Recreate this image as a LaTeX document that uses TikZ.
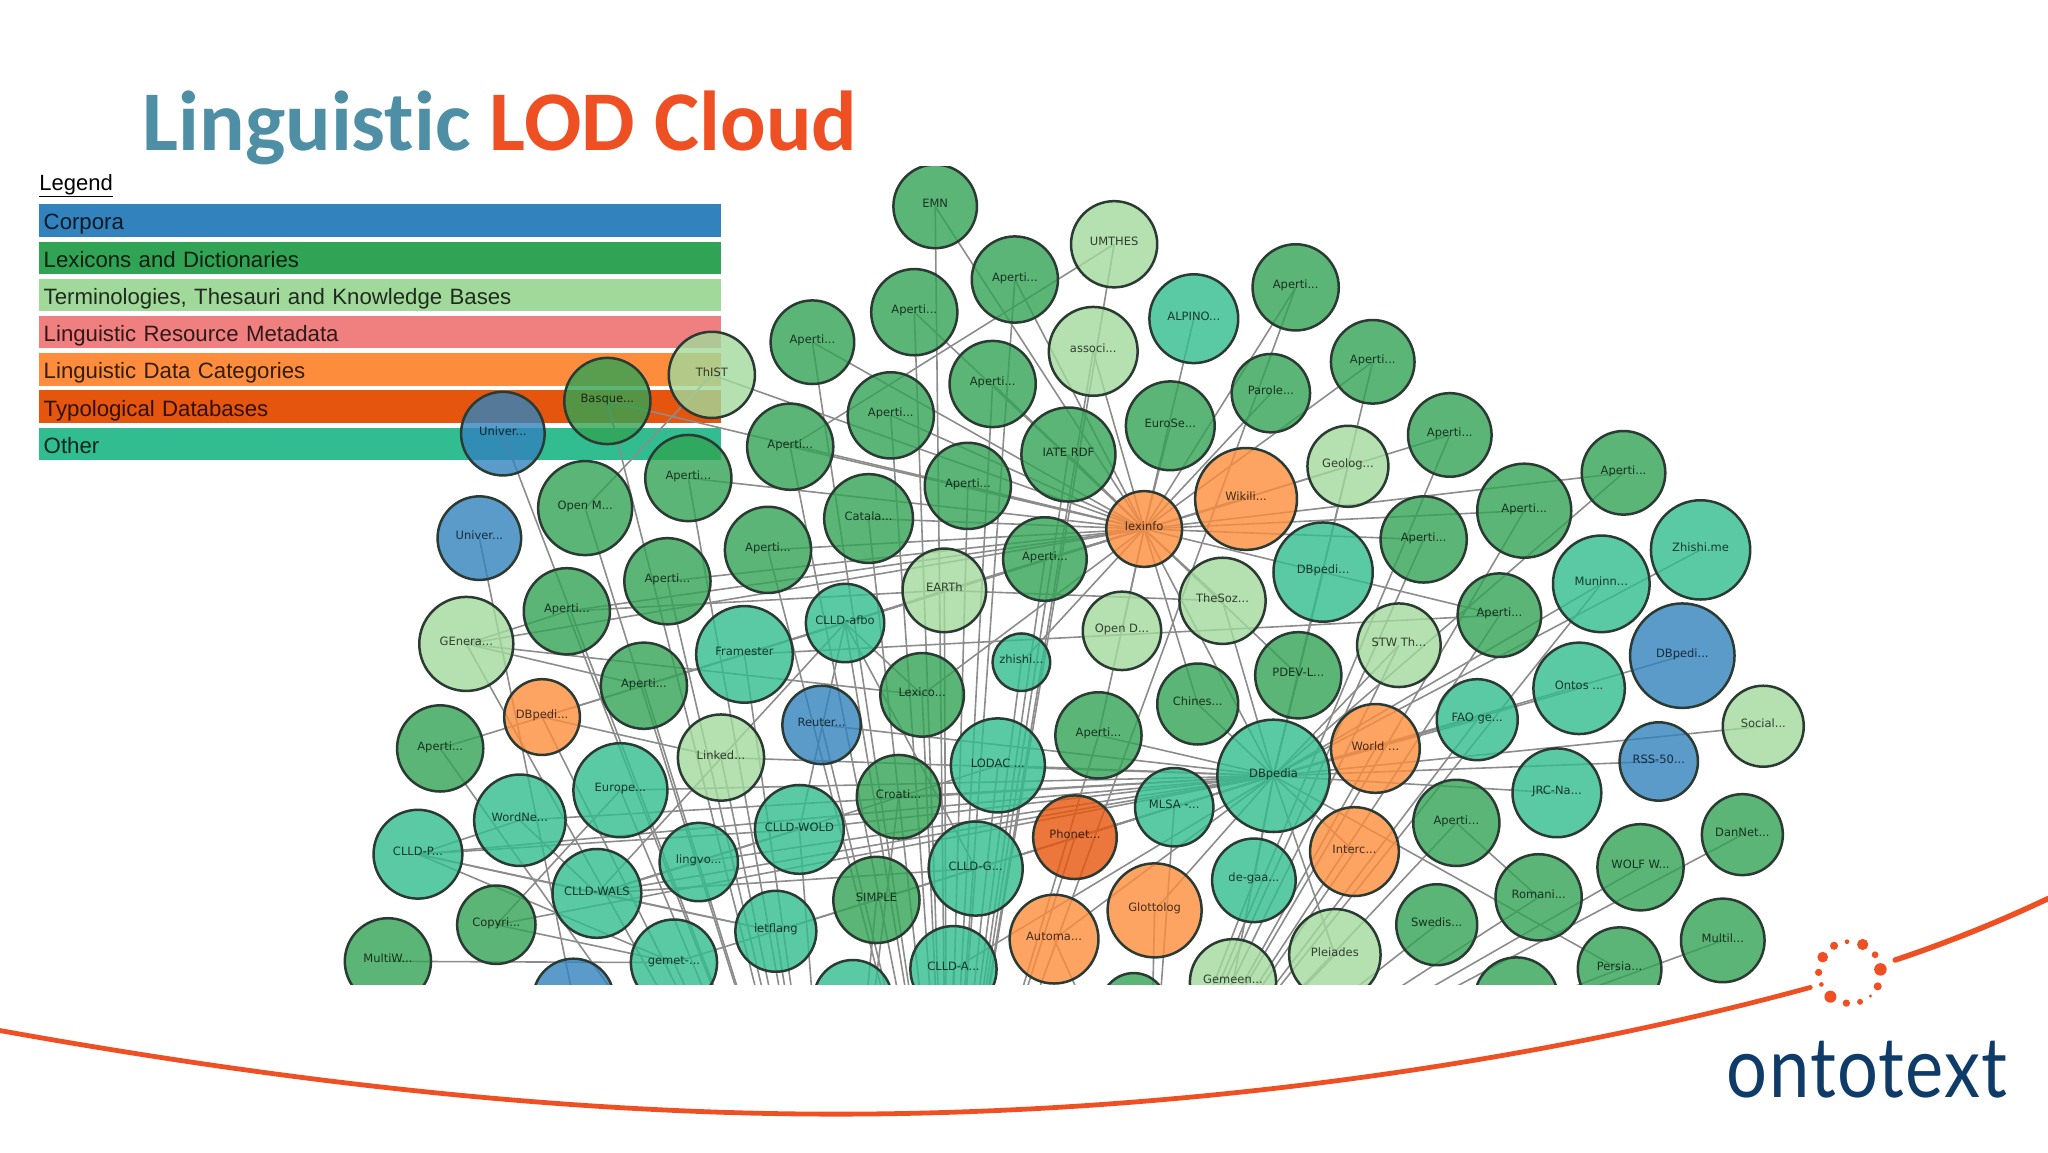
\documentclass[tikz,border=0pt]{standalone}
\usepackage{fontspec}
\usepackage{xcolor}
\usepackage{tikz}
\setmainfont{Liberation Sans}
\newfontfamily\graphfont{DejaVu Sans}
\newfontfamily\titlefont[Ligatures=NoCommon]{Carlito}
\newfontfamily\logofont[FakeStretch=0.86,LetterSpace=1.5]{Lato}
\definecolor{corpcol}{HTML}{3182BD}
\definecolor{lexcol}{HTML}{31A354}
\definecolor{termcol}{HTML}{A1D99B}
\definecolor{metacol}{HTML}{F08080}
\definecolor{catcol}{HTML}{FD8D3C}
\definecolor{typocol}{HTML}{E6550D}
\definecolor{othercol}{HTML}{31BD8F}
\definecolor{ringcol}{HTML}{2B3A33}
\definecolor{linkcol}{HTML}{8C8C8C}
\definecolor{tealcol}{HTML}{4F8FA6}
\definecolor{redcol}{HTML}{EF5023}
\definecolor{logocol}{HTML}{0F3B68}
\pgfdeclarelayer{legendlayer}
\pgfdeclarelayer{linklayer}
\pgfsetlayers{legendlayer,linklayer,main}
\tikzset{
  gnode/.style={circle,draw=ringcol,line width=2.5pt,inner sep=0pt,fill opacity=.8,text=black,text opacity=.72,text height=8.7pt,text depth=5.5pt,font=\graphfont\fontsize{11.5}{12}\selectfont},
  rad/.style={minimum size=#1*2.6122pt},
  corp/.style={gnode,fill=corpcol},
  lex/.style={gnode,fill=lexcol},
  term/.style={gnode,fill=termcol},
  cat/.style={gnode,fill=catcol},
  typo/.style={gnode,fill=typocol},
  other/.style={gnode,fill=othercol},
  link/.style={draw=linkcol,line width=1.6pt},
  bar/.style={anchor=west,inner xsep=5pt,inner ysep=0pt,text width=671.8pt,minimum height=32.3pt,text height=18.8pt,text depth=0pt,text=black,text opacity=.8,font=\fontsize{22.2}{24}\selectfont},
  swoosh/.style={draw=redcol,line cap=round},
  spark/.style={fill=redcol}
}
\begin{document}
\begin{tikzpicture}[x=1.30612pt,y=-1.30612pt,line join=round]
\useasboundingbox (0,0) rectangle (1568,882);
\node [anchor=base west,inner sep=0pt,font=\titlefont\bfseries\fontsize{85}{90}\selectfont] (title) at (109,115) {\textcolor{tealcol}{Linguistic} \textcolor{redcol}{LOD Cloud}};
\node [anchor=base west,inner sep=0pt,font=\fontsize{22}{24}\selectfont] (legend) at (30,146) {\underline{Legend}};
\begin{pgfonlayer}{legendlayer}
\node [bar,fill=corpcol] (rowcorp) at (29.5,168.8) {Corpora};
\node [bar,fill=lexcol] (rowlex) at (29.5,197.3) {Lexicons and Dictionaries};
\node [bar,fill=termcol] (rowterm) at (29.5,225.8) {Terminologies, Thesauri and Knowledge Bases};
\node [bar,fill=metacol] (rowmeta) at (29.5,254.3) {Linguistic Resource Metadata};
\node [bar,fill=catcol] (rowcat) at (29.5,282.8) {Linguistic Data Categories};
\node [bar,fill=typocol] (rowtypo) at (29.5,311.3) {Typological Databases};
\node [bar,fill=othercol] (rowother) at (29.5,339.8) {Other};
\end{pgfonlayer}
\begin{scope}
\clip (0,127.7) rectangle (1568,753.7);
\node [lex,rad=32] (emn) at (716,158) {EMN};
\node [term,rad=33] (umthes) at (853,187) {UMTHES};
\node [lex,rad=33] (ap1) at (777,214) {Aperti...};
\node [lex,rad=33] (ap2) at (700,239) {Aperti...};
\node [other,rad=34] (alpino) at (914,244) {ALPINO...};
\node [lex,rad=33] (ap3) at (992,220) {Aperti...};
\node [term,rad=34] (assoc) at (837,269) {associ...};
\node [lex,rad=32] (ap4) at (622,262) {Aperti...};
\node [lex,rad=33] (ap5) at (760,294) {Aperti...};
\node [lex,rad=30] (parole) at (973,301) {Parole...};
\node [lex,rad=32] (ap6) at (1051,277) {Aperti...};
\node [lex,rad=34] (eurose) at (896,326) {EuroSe...};
\node [term,rad=33] (thist) at (545,287) {ThIST};
\node [lex,rad=33] (basque) at (465,307) {Basque...};
\node [lex,rad=33] (ap7) at (682,318) {Aperti...};
\node [lex,rad=33] (ap8) at (605,342) {Aperti...};
\node [corp,rad=32] (univa) at (385,332) {Univer...};
\node [lex,rad=36] (iate) at (818,348) {IATE RDF};
\node [term,rad=31] (geolog) at (1032,357) {Geolog...};
\node [lex,rad=32] (ap9) at (1110,333) {Aperti...};
\node [lex,rad=33] (ap10) at (527,366) {Aperti...};
\node [lex,rad=33] (ap11) at (741,372) {Aperti...};
\node [cat,rad=39] (wikili) at (954,382) {Wikili...};
\node [cat,rad=29] (lexinfo) at (876,405) {lexinfo};
\node [lex,rad=36] (openm) at (448,389) {Open M...};
\node [corp,rad=32] (univb) at (367,412) {Univer...};
\node [lex,rad=34] (catala) at (665,397) {Catala...};
\node [lex,rad=32] (ap12) at (800,428) {Aperti...};
\node [lex,rad=33] (ap13) at (588,421) {Aperti...};
\node [lex,rad=33] (ap14) at (1090,413) {Aperti...};
\node [lex,rad=36] (ap15) at (1167,391) {Aperti...};
\node [lex,rad=32] (ap16) at (1243,362) {Aperti...};
\node [other,rad=38] (dbpgreen) at (1013,438) {DBpedi...};
\node [other,rad=37] (muninn) at (1226,447) {Muninn...};
\node [other,rad=38] (zhishime) at (1302,421) {Zhishi.me};
\node [lex,rad=33] (ap17) at (511,445) {Aperti...};
\node [term,rad=32] (earth) at (723,452) {EARTh};
\node [term,rad=33] (thesoz) at (936,460) {TheSoz...};
\node [lex,rad=33] (ap18) at (434,468) {Aperti...};
\node [other,rad=30] (afbo) at (647,477) {CLLD-afbo};
\node [lex,rad=32] (ap19) at (1148,471) {Aperti...};
\node [term,rad=30] (opend) at (859,483) {Open D...};
\node [term,rad=32] (stw) at (1071,494) {STW Th...};
\node [term,rad=36] (genera) at (357,493) {GEnera...};
\node [other,rad=37] (framester) at (570,501) {Framester};
\node [other,rad=22] (zhishi) at (782,507) {zhishi...};
\node [corp,rad=40] (dbpblue) at (1288,502) {DBpedi...};
\node [lex,rad=33] (pdev) at (994,517) {PDEV-L...};
\node [lex,rad=33] (ap20) at (493,525) {Aperti...};
\node [lex,rad=32] (lexico) at (706,532) {Lexico...};
\node [other,rad=35] (ontos) at (1209,527) {Ontos ...};
\node [lex,rad=31] (chines) at (917,539) {Chines...};
\node [other,rad=31] (fao) at (1131,551) {FAO ge...};
\node [cat,rad=29] (dbporange) at (415,549) {DBpedi...};
\node [term,rad=31] (social) at (1350,556) {Social...};
\node [corp,rad=30] (reuter) at (629,555) {Reuter...};
\node [lex,rad=33] (ap21) at (841,563) {Aperti...};
\node [term,rad=33] (linked) at (552,580) {Linked...};
\node [other,rad=36] (lodac) at (764,586) {LODAC ...};
\node [cat,rad=34] (world) at (1053,573) {World ...};
\node [corp,rad=30] (rss) at (1270,583) {RSS-50...};
\node [other,rad=43] (dbpedia) at (975,594) {DBpedia};
\node [lex,rad=33] (ap22) at (337,573) {Aperti...};
\node [other,rad=36] (europe) at (475,605) {Europe...};
\node [other,rad=34] (jrc) at (1192,607) {JRC-Na...};
\node [lex,rad=32] (croati) at (688,610) {Croati...};
\node [other,rad=30] (mlsa) at (899,618) {MLSA -...};
\node [lex,rad=31] (dannet) at (1334,639) {DanNet...};
\node [lex,rad=33] (ap23) at (1115,630) {Aperti...};
\node [other,rad=34] (wold) at (612,635) {CLLD-WOLD};
\node [other,rad=35] (wordne) at (398,628) {WordNe...};
\node [typo,rad=32] (phonet) at (823,641) {Phonet...};
\node [cat,rad=34] (interc) at (1037,652) {Interc...};
\node [other,rad=34] (cllp) at (320,654) {CLLD-P...};
\node [other,rad=30] (lingvo) at (535,660) {lingvo...};
\node [lex,rad=33] (wolf) at (1256,664) {WOLF W...};
\node [other,rad=36] (cllg) at (747,665) {CLLD-G...};
\node [other,rad=32] (degaa) at (960,674) {de-gaa...};
\node [lex,rad=33] (simple) at (671,689) {SIMPLE};
\node [lex,rad=33] (romani) at (1178,687) {Romani...};
\node [cat,rad=36] (glotto) at (884,697) {Glottolog};
\node [other,rad=34] (wals) at (457,684) {CLLD-WALS};
\node [lex,rad=30] (copyri) at (380,708) {Copyri...};
\node [lex,rad=31] (swedis) at (1100,708) {Swedis...};
\node [lex,rad=32] (multil) at (1319,720) {Multil...};
\node [other,rad=31] (ietf) at (594,713) {ietflang};
\node [cat,rad=34] (automa) at (807,719) {Automa...};
\node [other,rad=33] (gemet) at (516,737) {gemet-...};
\node [lex,rad=33] (multiw) at (297,736) {MultiW...};
\node [lex,rad=32] (persia) at (1240,742) {Persia...};
\node [other,rad=33] (cllda) at (730,742) {CLLD-A...};
\node [term,rad=35] (pleiades) at (1022,731) {Pleiades};
\node [term,rad=33] (gemeen) at (944,752) {Gemeen...};
\node [corp,rad=31] (lowblue) at (439,765) {};
\node [other,rad=30] (lowother) at (653,765) {};
\node [lex,rad=25] (lowmid) at (868,770) {};
\node [lex,rad=32] (lowright) at (1161,765) {};
\end{scope}
\coordinate (hubs) at (725,950);
\coordinate (hubw) at (640,1000);
\coordinate (hube) at (880,880);
\begin{pgfonlayer}{linklayer}
\clip (0,127.7) rectangle (1568,753.7);
\draw [link] (lexinfo.center) edge (emn.center) edge (ap1.center) edge (ap2.center) edge (ap3.center) edge (ap4.center) edge (ap5.center) edge (ap6.center) edge (ap7.center) edge (ap8.center) edge (ap9.center) edge (ap10.center) edge (ap11.center) edge (ap12.center) edge (ap13.center) edge (ap14.center) edge (ap15.center) edge (ap16.center) edge (ap17.center) edge (ap18.center) edge (ap19.center) edge (ap20.center) edge (ap21.center);
\draw [link] (lexinfo.center) edge (alpino.center) edge (assoc.center) edge (parole.center) edge (eurose.center) edge (iate.center) edge (geolog.center) edge (wikili.center) edge (catala.center) edge (earth.center) edge (thesoz.center) edge (opend.center) edge (genera.center) edge (pdev.center) edge (lexico.center) edge (chines.center) edge (basque.center) edge (thist.center) edge (zhishi.center) edge (dbpedia.center) edge (dbporange.center) edge (framester.center) edge (afbo.center);
\draw [link] (dbpedia.center) edge (lodac.center) edge (wold.center) edge (lingvo.center) edge (wals.center) edge (cllp.center) edge (wordne.center) edge (europe.center) edge (linked.center) edge (reuter.center) edge (cllg.center) edge (mlsa.center) edge (phonet.center) edge (glotto.center) edge (automa.center) edge (degaa.center) edge (cllda.center) edge (ietf.center) edge (gemet.center) edge (copyri.center) edge (simple.center) edge (croati.center);
\draw [link] (dbpedia.center) edge (world.center) edge (interc.center) edge (fao.center) edge (ontos.center) edge (dbpblue.center) edge (jrc.center) edge (rss.center) edge (social.center) edge (muninn.center) edge (zhishime.center) edge (dbpgreen.center) edge (stw.center) edge (pdev.center) edge (thesoz.center) edge (chines.center) edge (ap21.center) edge (pleiades.center) edge (gemeen.center) edge (persia.center) edge (ap6.center) edge (ap16.center) edge (geolog.center);
\draw [link] (hubs) edge (emn.center) edge (ap1.center) edge (ap2.center) edge (ap3.center) edge (ap4.center) edge (ap5.center) edge (ap7.center) edge (ap8.center) edge (ap11.center) edge (ap12.center) edge (ap13.center) edge (catala.center) edge (iate.center) edge (earth.center) edge (afbo.center) edge (zhishi.center) edge (lexico.center) edge (ap21.center) edge (lodac.center) edge (cllg.center) edge (cllda.center) edge (reuter.center) edge (phonet.center) edge (umthes.center) edge (assoc.center);
\draw [link] (hubw) edge (univa.center) edge (basque.center) edge (openm.center) edge (ap10.center) edge (ap17.center) edge (ap18.center) edge (ap20.center) edge (genera.center) edge (dbporange.center) edge (ap22.center) edge (europe.center) edge (linked.center) edge (framester.center) edge (wold.center) edge (gemet.center) edge (ietf.center) edge (lowother.center) edge (croati.center) edge (simple.center);
\draw [link] (hube) edge (ap9.center) edge (ap14.center) edge (ap15.center) edge (ap19.center) edge (ap23.center) edge (dannet.center) edge (wolf.center) edge (romani.center) edge (swedis.center) edge (multil.center) edge (persia.center) edge (lowright.center) edge (pleiades.center) edge (interc.center) edge (world.center) edge (stw.center) edge (fao.center) edge (muninn.center) edge (glotto.center) edge (automa.center) edge (degaa.center) edge (gemeen.center) edge (mlsa.center) edge (lowmid.center);
\draw [link] (cllp.center) edge (wals.center) edge (ietf.center) edge (gemet.center) edge (wordne.center) edge (wold.center);
\draw [link] (wals.center) edge (ietf.center) edge (wordne.center) edge (lingvo.center) edge (wold.center) edge (afbo.center) edge (lodac.center) edge (cllg.center);
\draw [link] (afbo.center) edge (earth.center) edge (lexico.center) edge (wold.center) edge (cllg.center) edge (framester.center);
\draw [link] (univb.center) edge (lowblue.center);
\draw [link] (thist.center) edge (openm.center);
\draw [link] (umthes.center) edge (ap8.center);
\draw [link] (genera.center) edge (ap18.center) edge (ap20.center) edge (lexico.center);
\draw [link] (ap22.center) edge (dbporange.center);
\draw [link] (dbporange.center) edge (ap20.center) edge (linked.center);
\draw [link] (framester.center) edge (ap20.center) edge (ap19.center);
\draw [link] (earth.center) edge (thesoz.center) edge (ap18.center);
\draw [link] (copyri.center) edge (europe.center) edge (gemet.center);
\draw [link] (multiw.center) edge (gemet.center);
\draw [link] (ap23.center) edge (romani.center);
\end{pgfonlayer}
\draw [swoosh,line width=4.8pt] (0,789) .. controls (200,825) and (420,853) .. (640,853) .. controls (900,853) and (1170,815) .. (1386,756);
\draw [swoosh,line width=5.5pt] (1451,735) .. controls (1490,722) and (1530,706) .. (1568,688);
\fill [spark] (1426.1,723.1) circle (4.3);
\fill [spark] (1435.6,731) circle (2.6);
\fill [spark] (1439.7,742.2) circle (4.8);
\fill [spark] (1437.6,755.2) circle (3.1);
\fill [spark] (1432,762.6) circle (1.3);
\fill [spark] (1424.1,767) circle (2.3);
\fill [spark] (1413.6,768) circle (2.8);
\fill [spark] (1401.4,763.1) circle (4.6);
\fill [spark] (1394.5,753.7) circle (1.8);
\fill [spark] (1392.4,744.5) circle (2.8);
\fill [spark] (1395.5,732.8) circle (4.1);
\fill [spark] (1404.2,724.1) circle (3.1);
\fill [spark] (1414.1,721) circle (1.8);
\node [anchor=base west,inner sep=0pt,text=logocol,font=\logofont\fontsize{84}{86}\selectfont] (ontotext) at (1322,840) {ontotext};
\end{tikzpicture}
\end{document}
